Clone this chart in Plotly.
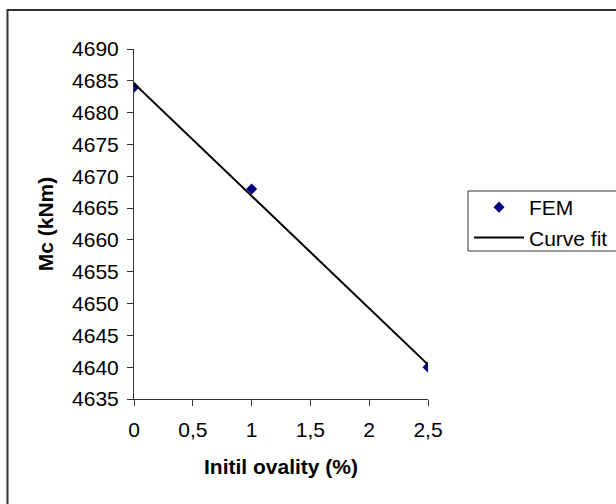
import plotly.graph_objects as go

# FEM results: collapse moment vs. initial ovality
ovality = [0, 1, 2.5]
mc_fem = [4684, 4668, 4640]

# Linear curve fit end points
fit_x = [0, 2.5]
fit_y = [4684.6, 4640.4]

x_ticks = [0, 0.5, 1, 1.5, 2, 2.5]
x_tick_labels = ["0", "0,5", "1", "1,5", "2", "2,5"]
y_ticks = [4635, 4640, 4645, 4650, 4655, 4660, 4665, 4670, 4675, 4680, 4685, 4690]
y_tick_labels = [str(v) for v in y_ticks]

W, H = 616, 504
ML, MR, MT, MB = 134, 188, 49, 105
PW, PH = W - ML - MR, H - MT - MB


def px_x(px):
    return (px - ML) / PW


def px_y(py):
    return (H - MB - py) / PH


FONT = "Liberation Sans, Arial, sans-serif"
FS = 21
AXIS_COLOR = "#333333"

fig = go.Figure()
fig.add_trace(go.Scatter(
    x=ovality, y=mc_fem, mode="markers", name="FEM",
    marker=dict(symbol="diamond", size=8.5, color="#000080"),
))
fig.add_trace(go.Scatter(
    x=fit_x, y=fit_y, mode="lines", name="Curve fit",
    line=dict(color="black", width=2),
))

axis_common = dict(
    showgrid=False, zeroline=False, showline=True, linecolor=AXIS_COLOR,
    linewidth=1, ticks="outside", ticklen=6, tickcolor=AXIS_COLOR,
    tickwidth=1, tickfont=dict(family=FONT, size=FS, color="black"),
    automargin=False,
)

fig.update_xaxes(
    range=[0, 2.5], tickvals=x_ticks, ticktext=x_tick_labels,
    ticklabelstandoff=6,
    title=dict(text="<b>Initil ovality (%)</b>", standoff=19,
               font=dict(family=FONT, size=FS, color="black")),
    **axis_common,
)
fig.update_yaxes(
    range=[4635, 4690], tickvals=y_ticks, ticktext=y_tick_labels,
    ticklabelstandoff=4,
    title=dict(text="<b>Mc (kNm)</b>", standoff=12,
               font=dict(family=FONT, size=FS, color="black")),
    **axis_common,
)

# Outer chart frame (runs off the right and bottom edges)
fig.add_shape(type="rect", xref="paper", yref="paper",
              x0=px_x(7.5), x1=px_x(W + 40), y0=px_y(H + 40), y1=px_y(10),
              line=dict(color=AXIS_COLOR, width=2), fillcolor="rgba(0,0,0,0)",
              layer="below")

# Legend frame
fig.add_shape(type="rect", xref="paper", yref="paper",
              x0=px_x(468), x1=px_x(W + 40), y0=px_y(251), y1=px_y(191),
              line=dict(color=AXIS_COLOR, width=1), fillcolor="rgba(0,0,0,0)",
              layer="above")

fig.update_layout(
    width=W, height=H,
    margin=dict(l=ML, r=MR, t=MT, b=MB, autoexpand=False),
    paper_bgcolor="white", plot_bgcolor="white",
    separators=",.",
    font=dict(family=FONT, size=FS, color="black"),
    showlegend=True,
    legend=dict(
        x=px_x(469), y=px_y(187), xanchor="left", yanchor="top",
        bgcolor="rgba(0,0,0,0)", borderwidth=0,
        font=dict(family=FONT, size=FS, color="black"),
        itemwidth=50,
    ),
)

fig.write_html("out.html")
